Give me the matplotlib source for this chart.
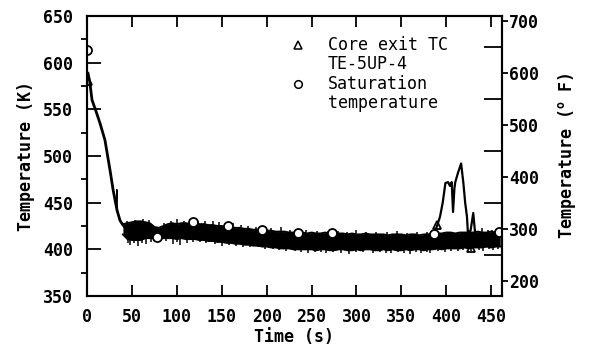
import numpy as np
import matplotlib
matplotlib.use("Agg")
import matplotlib.pyplot as plt
from matplotlib.ticker import MultipleLocator

# ---- data ----
# Core exit TC: initial blowdown
t_descent = [0, 1, 3, 5.6, 10, 14.5, 20, 25.6, 29, 33.4, 36.7, 40, 43]
k_descent = [585, 589, 580, 560, 548, 535, 517, 485, 464, 442, 431, 426, 423]
# thin spike near 33 s
t_spike1 = [32.5, 33.2, 33.8]
k_spike1 = [446, 464, 444]

# noisy band envelope (core exit TC) after 40 s
t_band = list(range(40, 465, 5))
k_upper = [427, 428, 429, 430, 430, 429, 428, 424, 423, 425, 427, 428, 427, 428, 428, 427,
           428, 427, 427, 426, 426, 425, 425, 424, 424, 423, 423, 422, 422, 421, 421, 420,
           420, 420, 419, 419, 419, 418, 418, 418, 418, 417, 418, 417, 417, 418, 417, 417,
           417, 417, 416, 417, 416, 416, 417, 416, 416, 416, 416, 415, 416, 416, 416, 415,
           416, 416, 415, 416, 416, 417, 417, 417, 418, 418, 417, 418, 418, 418, 418, 419,
           418, 418, 419, 418, 419]
k_lower = [416, 411, 410, 410, 410, 412, 412, 412, 411, 412, 412, 412, 411, 412, 411, 411,
           411, 410, 410, 409, 409, 408, 408, 407, 407, 406, 406, 405, 405, 404, 404, 403,
           403, 402, 402, 401, 401, 401, 400, 400, 400, 400, 400, 399, 400, 400, 399, 399,
           400, 400, 399, 399, 400, 399, 400, 400, 399, 399, 400, 399, 400, 399, 399, 400,
           399, 400, 400, 399, 400, 400, 401, 400, 401, 401, 401, 401, 402, 401, 402, 402,
           402, 403, 402, 403, 403]
# noise spikes sticking out below / above the band
t_spk_dn = [46, 48, 52, 57, 61, 66, 71, 79, 88, 96, 100, 104, 111, 118, 126, 133, 142,
            150, 158, 166, 174, 182, 190, 198, 207, 214, 222, 231, 238, 246, 254, 261,
            266, 274, 283, 292, 299, 307, 318, 326, 333, 338, 346, 353, 360, 366, 372,
            378, 382, 391, 398, 405, 413, 419, 428, 436, 441, 447, 452, 457]
k_spk_dn = [407, 405, 407, 404, 407, 406, 408, 409, 409, 406, 408, 405, 407, 408, 408, 407,
            406, 404, 405, 404, 403, 402, 402, 400, 400, 399, 398, 398, 397, 396, 397, 397,
            396, 397, 396, 395, 397, 397, 396, 397, 396, 396, 397, 396, 395, 397, 396,
            397, 396, 398, 397, 398, 398, 399, 398, 399, 398, 400, 399, 400]
t_spk_up = [45, 53, 62, 69, 86, 93, 100, 108, 116, 124, 131, 140, 147, 155, 163, 171,
            179, 188, 196, 205, 216, 226, 236, 244, 256, 268, 279, 289, 300, 311, 322,
            334, 345, 356, 367, 378, 440, 446, 451, 456]
k_spk_up = [430, 431, 433, 431, 428, 430, 432, 430, 431, 430, 430, 430, 429, 428, 428, 426,
            425, 424, 423, 423, 424, 421, 421, 421, 420, 420, 420, 419, 421, 419, 419,
            419, 420, 418, 419, 419, 423, 421, 421, 421]

# heat-up excursion near 390-435 s
t_heat = [386, 390, 393, 396, 399, 402, 404, 406, 407.5, 409, 410, 413, 416.5, 419, 421,
          423, 424, 427, 430, 432, 434]
k_heat = [415, 426, 435, 450, 471, 472, 468, 472, 440, 465, 472, 482, 492, 471, 450,
          435, 418, 420, 439, 418, 415]

# symbols
t_tri = [1.5, 390, 427]
k_tri = [580, 426, 401]
t_sat = [0.5, 78, 118, 157, 195, 235, 273, 386, 459]
k_sat = [614, 413, 429, 425, 421, 418, 418, 416, 419]

x_ticks = [0, 50, 100, 150, 200, 250, 300, 350, 400, 450]
y_ticks = [350, 400, 450, 500, 550, 600, 650]
f_ticks = [200, 300, 400, 500, 600, 700]

legend_lines = [("Core exit TC", "^"), ("TE-5UP-4", None),
                ("Saturation", "o"), ("temperature", None)]

# ---- figure ----
fig = plt.figure(figsize=(5.89, 3.49), dpi=100)
ax = fig.add_axes([87/589, 1-296/349, 415/589, 280/349])

lw = 1.5
mid = [(a + b) / 2 for a, b in zip(k_upper, k_lower)]
ax.plot(t_descent, k_descent, color="black", lw=2.0)
ax.plot(t_spike1, k_spike1, color="black", lw=1.0)
ax.fill_between(t_band, k_lower, k_upper, color="black", lw=0)
ax.plot(t_band, k_upper, color="black", lw=1.4)
ax.plot(t_band, k_lower, color="black", lw=1.4)
ax.vlines(t_spk_dn, np.interp(t_spk_dn, t_band, mid), k_spk_dn, color="black", lw=1.1)
ax.vlines(t_spk_up, np.interp(t_spk_up, t_band, mid), k_spk_up, color="black", lw=1.1)
ax.plot(t_heat, k_heat, color="black", lw=1.6)
ax.plot(t_tri, k_tri, ls="none", marker="^", ms=6, mfc="none", mec="black", mew=1.3)
ax.plot(t_sat, k_sat, ls="none", marker="o", ms=6.5, mfc="white", mec="black", mew=1.3)

ax.set_xlim(0, 462)
ax.set_ylim(350, 650)
ax.set_xticks(x_ticks)
ax.set_yticks(y_ticks)
ax.yaxis.set_minor_locator(MultipleLocator(25))

tick_font = dict(fontsize=12, fontweight="bold", family="DejaVu Sans Mono")
ax.set_xticklabels([str(v) for v in x_ticks], **tick_font)
ax.set_yticklabels([str(v) for v in y_ticks], **tick_font)
ax.tick_params(axis="x", which="major", direction="in", length=8, width=1.3,
               top=True, labeltop=False, pad=9)
ax.tick_params(axis="y", which="major", direction="in", length=10, width=1.3,
               right=False, pad=10)
ax.tick_params(axis="y", which="minor", direction="out", length=4, width=1.3, right=False)
for s in ax.spines.values():
    s.set_linewidth(lw)

label_font = dict(fontsize=12, fontweight="bold", family="DejaVu Sans Mono")
ax.set_xlabel("Time (s)", labelpad=1, **label_font)
ax.set_ylabel("Temperature (K)", labelpad=6, **label_font)

# right axis in deg F
def k2f(k):
    return (np.asarray(k) - 273.15) * 9 / 5 + 32

ax2 = ax.twinx()
ax2.set_ylim(k2f(350), k2f(650))
ax2.set_yticks(f_ticks)
ax2.set_yticklabels([str(v) for v in f_ticks], **tick_font)
ax2.yaxis.set_minor_locator(MultipleLocator(50))
ax2.tick_params(axis="y", which="major", direction="out", length=4, width=1.3, pad=1)
ax2.tick_params(axis="y", which="minor", direction="in", length=13, width=1.3)
for s in ax2.spines.values():
    s.set_linewidth(lw)
ax2.set_ylabel("Temperature ($\\mathregular{^{o}}$ F)", labelpad=12, **label_font)

# legend block (symbols + text)
y0 = 1 - (45 - 16) / 280
dy = 19.5 / 280
xm = (298 - 87) / 415
xt = (328 - 87) / 415
for i, (txt, mk) in enumerate(legend_lines):
    yy = y0 - i * dy
    if mk:
        ax.plot([xm], [yy], transform=ax.transAxes, ls="none", marker=mk, ms=5.5,
                mfc="none", mec="black", mew=1.1, clip_on=False)
    ax.text(xt, yy, txt, transform=ax.transAxes, ha="left", va="center",
            fontsize=12, family="DejaVu Sans Mono")

fig.savefig("out.png", dpi=100)
